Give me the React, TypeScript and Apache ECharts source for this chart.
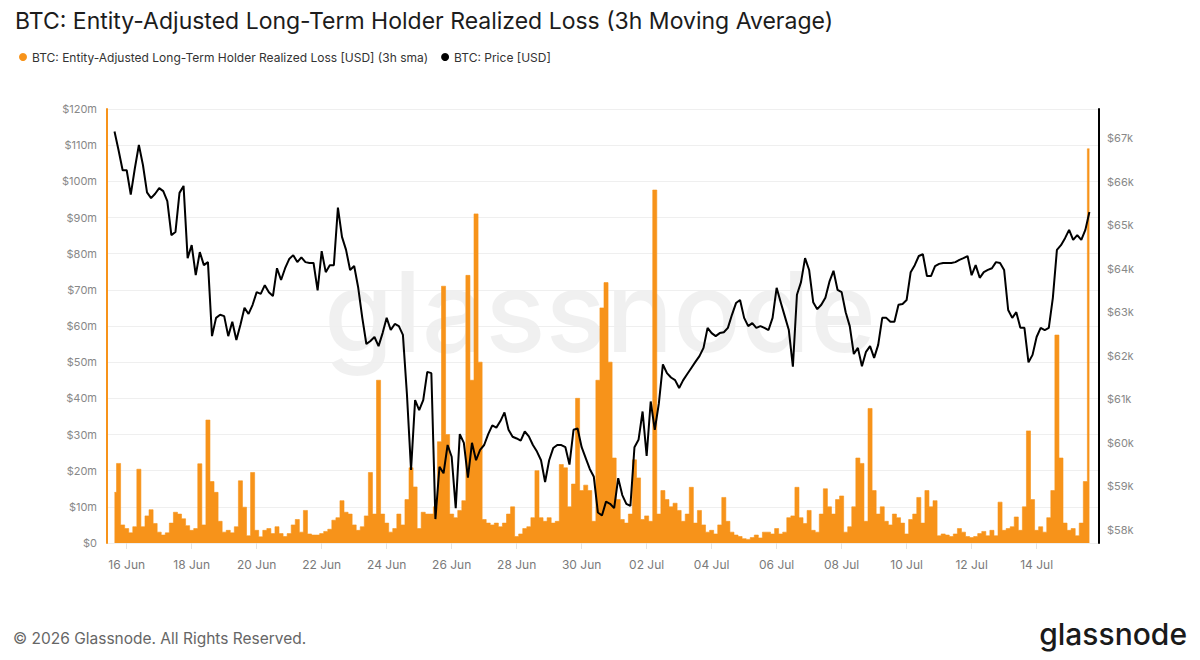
import React, { useEffect, useRef } from 'react';
import * as echarts from 'echarts';

const TITLE = 'BTC: Entity-Adjusted Long-Term Holder Realized Loss (3h Moving Average)';
const LOSS_NAME = 'BTC: Entity-Adjusted Long-Term Holder Realized Loss [USD] (3h sma)';
const PRICE_NAME = 'BTC: Price [USD]';
const FOOTER = '\u00A9 2026 Glassnode. All Rights Reserved.';
const BRAND = 'glassnode';

// Time is expressed in days relative to 16 Jun 00:00; first sample 15 Jun 15:00, 3-hourly.
const START_DAY = -0.375;
const STEP_DAYS = 0.125;
const X_MIN = -0.606;
const X_MAX = 29.92;

const xTickDays = [0, 2, 4, 6, 8, 10, 12, 14, 16, 18, 20, 22, 24, 26, 28];
const xTickLabels = ['16 Jun', '18 Jun', '20 Jun', '22 Jun', '24 Jun', '26 Jun', '28 Jun', '30 Jun', '02 Jul', '04 Jul', '06 Jul', '08 Jul', '10 Jul', '12 Jul', '14 Jul'];
const priceTicksK = [58, 59, 60, 61, 62, 63, 64, 65, 66, 67];

// Realized loss, $ millions (3h sma), one row per day (00,03,...,21h)
const lossUsdM = [
  14, 22, 5, // 15 Jun 15h-21h
  4, 2.8, 4.5, 20.4, 4.5, 7.5, 9.2, 5.4, // 16 Jun
  3, 2.2, 2.8, 5.5, 8.5, 8, 6.7, 4.8, // 17 Jun
  3.5, 4, 21.9, 5, 34, 17, 14, 6, // 18 Jun
  3, 3.5, 2.8, 4.5, 17.2, 9.9, 2, 19.5, // 19 Jun
  3.5, 1.7, 3.5, 4, 2.6, 4.5, 2.6, 1.8, // 20 Jun
  2.6, 5, 6.5, 3, 9, 2.5, 2.2, 2.2, // 21 Jun
  2.6, 3.2, 3.8, 6.3, 7, 11.7, 8.5, 8, // 22 Jun
  5, 3.5, 4.5, 7.5, 19.5, 8, 45, 8, // 23 Jun
  5.5, 3, 4, 8, 5, 12, 20.8, 15.5, // 24 Jun
  4, 8.5, 8, 8, 10, 28, 71, 30, // 25 Jun
  8, 7, 9, 11.7, 74, 45, 91, 50, // 26 Jun
  6.5, 5.5, 5, 5.5, 4.5, 5.5, 8, 10, // 27 Jun
  1.8, 2.5, 4, 4.5, 7, 20, 7, 6, // 28 Jun
  7, 5.5, 6, 21.7, 20.8, 10, 16.3, 40, // 29 Jun
  14.5, 16, 14.5, 6, 45, 65, 72, 50, // 30 Jun
  23.5, 12, 6.5, 5.5, 8, 23, 18, 6.5, // 01 Jul
  7.5, 6, 97.6, 8, 14.5, 12, 10, 11, // 02 Jul
  9, 6, 8, 15.4, 5.5, 9, 5, 3, // 03 Jul
  3.5, 2.5, 5, 12.6, 6, 3, 2.2, 1.8, // 04 Jul
  1.2, 1, 1.5, 2.2, 1.4, 3, 3, 2.5, // 05 Jul
  4, 2.5, 3, 7, 7.5, 15.4, 7, 5.4, // 06 Jul
  9, 3.5, 3, 8, 15, 10, 8, 12, // 07 Jul
  13, 3, 4.5, 10, 23.5, 22, 6, 37.2, // 08 Jul
  14.5, 8, 10, 6, 5, 8, 7, 5.5, // 09 Jul
  2.5, 6.5, 8, 12.6, 5.5, 14.5, 10, 11.7, // 10 Jul
  2, 2.5, 2.2, 1.8, 2.5, 4, 3, 1.8, // 11 Jul
  1.5, 1.8, 2.6, 3.2, 2, 3.5, 2, 11.3, // 12 Jul
  3.5, 4, 4.5, 7.2, 3.5, 10, 31, 12, // 13 Jul
  3.5, 4.5, 3, 7, 14.5, 57.5, 23.5, 5.5, // 14 Jul
  3.5, 4, 2, 5.5, 17, 109, // 15 Jul 00h-15h
];

// BTC price, $ thousands, same timestamps
const priceUsdK = [
  67.15, 66.72, 66.26, // 15 Jun
  66.26, 65.7, 66.3, 66.84, 66.38, 65.75, 65.62, 65.72, // 16 Jun
  65.85, 65.78, 65.55, 64.77, 64.84, 65.74, 65.9, 64.24, // 17 Jun
  64.54, 63.85, 64.38, 64.08, 64.15, 62.45, 62.87, 62.94, // 18 Jun
  62.91, 62.45, 62.78, 62.36, 62.71, 63.1, 62.96, 63.17, // 19 Jun
  63.46, 63.42, 63.62, 63.46, 63.37, 64.01, 63.74, 64.01, // 20 Jun
  64.22, 64.31, 64.15, 64.26, 64.15, 64.13, 64.13, 63.5, // 21 Jun
  64.4, 63.92, 64.08, 64.08, 65.4, 64.73, 64.43, 63.97, // 22 Jun
  64.06, 63.56, 62.87, 62.27, 62.34, 62.43, 62.22, 62.52, // 23 Jun
  62.87, 62.59, 62.73, 62.68, 62.48, 61.1, 59.38, 60.98, // 24 Jun
  60.75, 60.98, 61.63, 61.6, 58.25, 59.45, 59.3, 59.95, // 25 Jun
  59.68, 58.5, 60.2, 60.0, 59.2, 60.0, 59.6, 59.84, // 26 Jun
  59.95, 60.2, 60.4, 60.35, 60.5, 60.7, 60.3, 60.14, // 27 Jun
  60.1, 60.05, 60.26, 60.15, 59.95, 59.8, 59.6, 59.1, // 28 Jun
  59.6, 59.88, 59.95, 59.95, 59.9, 59.5, 60.3, 60.33, // 29 Jun
  59.9, 59.65, 59.4, 59.22, 58.4, 58.33, 58.65, 58.6, // 30 Jun
  58.5, 59.19, 58.8, 58.6, 58.55, 59.9, 60.07, 60.72, // 01 Jul
  59.7, 60.95, 60.3, 60.9, 61.8, 61.6, 61.5, 61.44, // 02 Jul
  61.26, 61.44, 61.58, 61.72, 61.86, 61.99, 62.18, 62.64, // 03 Jul
  62.52, 62.45, 62.52, 62.54, 62.64, 62.94, 63.21, 63.28, // 04 Jul
  62.87, 62.68, 62.75, 62.64, 62.68, 62.64, 62.59, 62.87, // 05 Jul
  63.56, 63.23, 62.91, 62.59, 61.75, 63.4, 63.69, 64.24, // 06 Jul
  63.97, 63.23, 63.07, 63.17, 63.33, 63.7, 63.95, 63.51, // 07 Jul
  63.46, 63.0, 62.68, 62.04, 62.18, 61.76, 62.09, 62.22, // 08 Jul
  61.95, 62.25, 62.87, 62.87, 62.78, 62.78, 63.17, 63.19, // 09 Jul
  63.28, 63.92, 64.08, 64.29, 64.33, 63.83, 63.83, 64.06, // 10 Jul
  64.11, 64.13, 64.13, 64.13, 64.15, 64.2, 64.24, 64.29, // 11 Jul
  63.85, 64.08, 63.79, 63.92, 63.97, 64.01, 64.15, 64.13, // 12 Jul
  63.97, 63.05, 62.87, 63.0, 62.64, 62.64, 61.85, 62.02, // 13 Jul
  62.43, 62.64, 62.59, 62.64, 63.33, 64.43, 64.54, 64.7, // 14 Jul
  64.89, 64.66, 64.77, 64.66, 64.89, 65.3, // 15 Jul
];

const ORANGE = '#f7931a';
const FONT = 'Inter, "Noto Sans", sans-serif';

export default function App() {
  const ref = useRef<HTMLDivElement>(null);
  useEffect(() => {
    if (!ref.current) return;
    const chart = echarts.init(ref.current, undefined, { renderer: 'svg' });
    const lossData = lossUsdM.map((v, i) => [START_DAY + i * STEP_DAYS, v]);
    const priceData = priceUsdK.map((v, i) => [START_DAY + i * STEP_DAYS, v]);
    chart.setOption({
      animation: false,
      backgroundColor: '#ffffff',
      textStyle: { fontFamily: FONT },
      title: {
        text: TITLE,
        left: 10,
        top: 4,
        textStyle: { fontSize: 23, fontWeight: 400, color: '#1c1c1c', fontFamily: FONT },
      },
      legend: {
        left: 14,
        top: 46,
        icon: 'circle',
        itemWidth: 8,
        itemHeight: 8,
        itemGap: 13,
        textStyle: { fontSize: 12, color: '#333', fontFamily: FONT },
        data: [
          { name: LOSS_NAME, itemStyle: { color: ORANGE } },
          { name: PRICE_NAME, itemStyle: { color: '#000' } },
        ],
      },
      grid: { left: 107, right: 101, top: 109, bottom: 117 },
      xAxis: {
        type: 'value',
        min: X_MIN,
        max: X_MAX,
        axisLine: { show: false },
        splitLine: { show: false },
        axisTick: { show: true, customValues: xTickDays, length: 6, lineStyle: { color: '#e3e3e3' } },
        axisLabel: {
          customValues: xTickDays,
          margin: 15,
          fontSize: 12,
          color: '#7a7a7a',
          formatter: (v: number) => {
            const idx = xTickDays.indexOf(Math.round(v));
            return idx >= 0 ? xTickLabels[idx] : '';
          },
        },
      },
      yAxis: [
        {
          type: 'value',
          min: 0,
          max: 120,
          interval: 10,
          position: 'left',
          axisLine: { show: true, onZero: false, lineStyle: { color: ORANGE, width: 2 } },
          axisTick: { show: false },
          splitLine: { show: true, lineStyle: { color: '#efefef', width: 1 } },
          axisLabel: {
            margin: 10,
            fontSize: 11,
            color: '#888',
            formatter: (v: number) => (v === 0 ? '$0' : '$' + v + 'm'),
          },
        },
        {
          type: 'value',
          min: 57.7,
          max: 67.666,
          position: 'right',
          axisLine: { show: true, onZero: false, lineStyle: { color: '#000', width: 2 } },
          axisTick: { show: false },
          splitLine: { show: false },
          axisLabel: {
            customValues: priceTicksK,
            margin: 8,
            fontSize: 11,
            color: '#888',
            formatter: (v: number) => '$' + Math.round(v) + 'k',
          },
        },
      ],
      graphic: [
        {
          type: 'text',
          left: 'center',
          top: 255,
          z: -10,
          silent: true,
          style: { text: BRAND, fontSize: 112, fontWeight: 500, fill: 'rgba(0,0,0,0.06)', fontFamily: FONT },
        },
        {
          type: 'text',
          x: 13,
          y: 638,
          style: { text: FOOTER, fontSize: 15.5, fill: '#666', fontFamily: FONT, textVerticalAlign: 'middle' },
        },
        {
          type: 'text',
          right: 13,
          top: 619,
          style: { text: BRAND, fontSize: 30, fontWeight: 500, fill: '#1a1a1a', fontFamily: FONT },
        },
      ],
      series: [
        {
          name: LOSS_NAME,
          type: 'line',
          yAxisIndex: 0,
          data: lossData,
          step: 'middle',
          showSymbol: false,
          color: ORANGE,
          lineStyle: { width: 0.6, color: ORANGE },
          areaStyle: { color: ORANGE, opacity: 1 },
          z: 2,
        },
        {
          name: PRICE_NAME,
          type: 'line',
          yAxisIndex: 1,
          data: priceData,
          showSymbol: false,
          color: '#000',
          lineStyle: { width: 2, color: '#000' },
          z: 3,
        },
      ],
    });
    return () => chart.dispose();
  }, []);
  return <div ref={ref} style={{ position: 'fixed', left: 0, top: 0, width: 1200, height: 660 }} />;
}
